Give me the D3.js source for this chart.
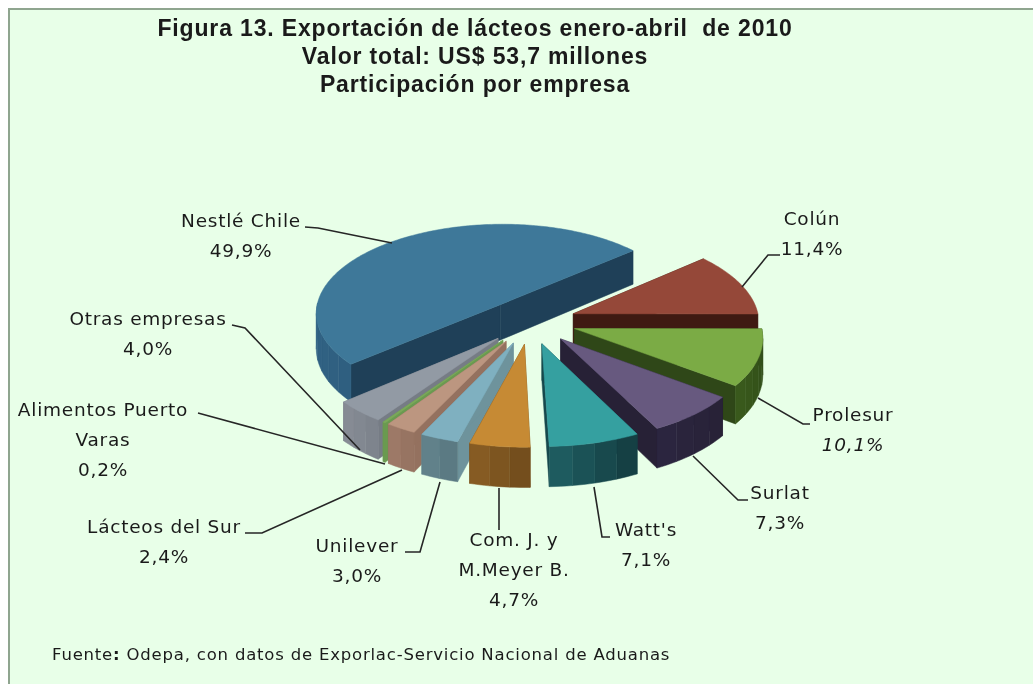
<!DOCTYPE html>
<html><head><meta charset="utf-8">
<script src="https://cdn.jsdelivr.net/npm/d3@7"></script>
<style>html,body{margin:0;padding:0;background:#fff;overflow:hidden}
svg{display:block}
text{fill:#1a1a1a}
</style></head><body><svg id="c" width="1033" height="684"></svg>
<script>
const categories=["Nestlé Chile","Colún","Prolesur","Surlat","Watt's","Com. J. y M.Meyer B.","Unilever","Lácteos del Sur","Alimentos Puerto Varas","Otras empresas"];
const shares=[49.9,11.4,10.1,7.3,7.1,4.7,3.0,2.4,0.2,4.0];
const explosion=[0.25,0.25,0.25,0.25,0.25,0.25,0.25,0.25,0.25,0.25];
const topColors=["#3e7899","#954839","#7bab45","#67597f","#35a0a0","#c68a34","#7fb0c0","#bc9680","#7aa85a","#929aa4"];
const wallLight=["#3a7096","#5c2a20","#3a5a1c","#2c2640","#1f5f63","#8a5e24","#64858d","#a07c6a","#6a9a50","#888d96"];
const wallDark=["#2f5f80","#3f1a12","#2e4818","#272136","#143c40","#6f4b1c","#587680","#94715f","#6a9a50","#7c828b"];
const cutColors=["#1f4058","#3f1a12","#2f4718","#272136","#17484c","#6f4b1c","#6e939c","#94715f","#6a9a50","#767c85"];
const drawOrder=[0,1,2,3,9,8,7,6,5,4];
const titleLines=["Figura 13. Exportación de lácteos enero-abril  de 2010","Valor total: US$ 53,7 millones","Participación por empresa"];
const sourceParts=["Fuente",":"," Odepa, con datos de Exporlac-Servicio Nacional de Aduanas"];
const labelLines=[["Nestlé Chile","49,9%"],["Colún","11,4%"],["Prolesur","10,1%"],["Surlat","7,3%"],["Watt's","7,1%"],["Com. J. y","M.Meyer B.","4,7%"],["Unilever","3,0%"],["Lácteos del Sur","2,4%"],["Alimentos Puerto","Varas","0,2%"],["Otras empresas","4,0%"]];
// layout
const labelAnchor=[[241,227],[812,225],[853,421],[780,499],[646,536],[514,546],[357,552],[164,533],[103,416],[148,325]];
const leaders=[
 [[305,227],[318,228],[392,243]],
 [[780,255],[768,255],[742,287]],
 [[758,398],[803,424],[810,424]],
 [[693,456],[738,500],[748,500]],
 [[594,487],[602,537],[610,537]],
 [[499,488],[499,530]],
 [[440,482],[420,552],[405,552]],
 [[402,470],[262,533],[245,533]],
 [[385,464],[198,413]],
 [[360,450],[245,328],[232,325]]];
const cx=530,cy=321.5,R=186,Ry=90,k=0.085,depth=36;
const svg=d3.select("#c");
const root=svg.append("g").style("filter","blur(0.5px)");
root.append("rect").attr("x",9).attr("y",9).attr("width",1040).attr("height",700).attr("fill","#e8ffe8").attr("stroke","#8fa58f").attr("stroke-width",2);
const pie=d3.pie().sort(null).startAngle(-130.3*Math.PI/180).endAngle((360-130.3)*Math.PI/180);
const arcs=pie(shares);
function proj(X,Z,h){const f=1/(1+k*Z);return [cx+R*X*f,cy+f*(-Ry*Z+h)];}
const line=d3.line();
function slice(i){
 const a=arcs[i],m=(a.startAngle+a.endAngle)/2,e=explosion[i];
 const ox=e*Math.sin(m),oz=e*Math.cos(m);
 const rim=(t,h)=>proj(ox+Math.sin(t),oz+Math.cos(t),h);
 const apex=h=>proj(ox,oz,h);
 return {a,rim,apex};
}
const pies=root.append("g");
drawOrder.forEach(i=>{
 const {a,rim,apex}=slice(i);
 const g=pies.append("g").attr("class","slice");
 const t0=a.startAngle,t1=a.endAngle;
 [t0,t1].forEach(t=>{
  g.append("path").attr("d",line([apex(0),rim(t,0),rim(t,depth),apex(depth)])+"Z").attr("fill",cutColors[i]).attr("stroke",cutColors[i]).attr("stroke-width",.5);
 });
 const shade=d3.scaleLinear().domain([t0,t1]).range([wallDark[i],wallLight[i]]).interpolate(d3.interpolateRgb);
 const step=Math.max((t1-t0)/Math.ceil((t1-t0)/(7*Math.PI/180)),1e-3);
 for(let t=t0;t<t1-1e-6;t+=step){
  const te=Math.min(t+step,t1);
  if(Math.cos((t+te)/2)>0.02)continue;
  const n=d3.range(0,1.0001,.25).map(u=>t+(te-t)*u);
  const pts=n.map(v=>rim(v,0)).concat(n.slice().reverse().map(v=>rim(v,depth)));
  const c=shade((t+te)/2);
  g.append("path").attr("d",line(pts)+"Z").attr("fill",c).attr("stroke",c).attr("stroke-width",.5);
 }
 const steps=Math.max(2,Math.ceil((t1-t0)/(Math.PI/180)));
 const pts=[apex(0)].concat(d3.range(steps+1).map(s=>rim(t0+(t1-t0)*s/steps,0)));
 g.append("path").attr("d",line(pts)+"Z").attr("fill",topColors[i]).attr("stroke",topColors[i]).attr("stroke-width",.5);
});
root.append("g").selectAll("path").data(leaders).join("path").attr("d",d=>line(d)).attr("fill","none").attr("stroke","#262626").attr("stroke-width",1.6);
const title=root.append("g").attr("font-family","'Liberation Sans'").attr("font-weight","700").attr("font-size",23).attr("letter-spacing",0.85).attr("text-anchor","middle");
titleLines.forEach((t,j)=>title.append("text").attr("x",475).attr("y",36+j*28).style("white-space","pre").text(t));
const lab=root.append("g").attr("font-family","'DejaVu Sans'").attr("font-size",18.5).attr("letter-spacing",0.75).attr("text-anchor","middle");
labelLines.forEach((ls,i)=>ls.forEach((t,j)=>{
 lab.append("text").attr("x",labelAnchor[i][0]).attr("y",labelAnchor[i][1]+j*30).attr("font-style",i===2&&j===1?"italic":"normal").text(t);
}));
const src=root.append("text").attr("x",52).attr("y",660).attr("font-family","'DejaVu Sans'").attr("font-size",16.5).attr("letter-spacing",0.8).style("white-space","pre");
sourceParts.forEach((p,j)=>src.append("tspan").attr("font-weight",j===1?"700":"400").text(p));
</script></body></html>
